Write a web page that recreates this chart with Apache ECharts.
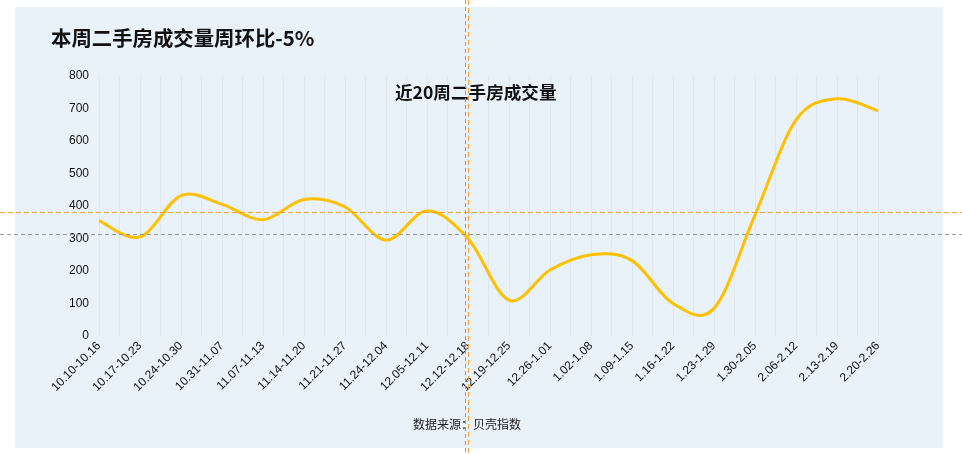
<!DOCTYPE html>
<html><head><meta charset="utf-8">
<script src="https://cdn.jsdelivr.net/npm/echarts@6/dist/echarts.min.js"></script>
<style>html,body{margin:0;padding:0;background:#fff}#c{width:962px;height:454px}</style>
</head><body><div id="c"></div>
<script>
const categories = ['10.10-10.16','10.17-10.23','10.24-10.30','10.31-11.07','11.07-11.13','11.14-11.20','11.21-11.27','11.24-12.04','12.05-12.11','12.12-12.18','12.19-12.25','12.26-1.01','1.02-1.08','1.09-1.15','1.16-1.22','1.23-1.29','1.30-2.05','2.06-2.12','2.13-2.19','2.20-2.26'];
const volumes = [355, 305, 432, 405, 358, 420, 397, 295, 385, 300, 110, 203, 250, 232, 100, 85, 372, 665, 730, 693];
const yTicks = [0, 800, 100];
const titleText = '本周二手房成交量周环比-5%';
const subTitleText = '近20周二手房成交量';
const sourceText = '数据来源：贝壳指数';

// Catmull-Rom spline through the points given in pixel space by the axes
function splinePath(pts) {
  let d = 'M' + pts[0][0] + ',' + pts[0][1];
  for (let i = 0; i < pts.length - 1; i++) {
    const p0 = pts[i - 1] || pts[i], p1 = pts[i], p2 = pts[i + 1], p3 = pts[i + 2] || pts[i + 1];
    const c1x = p1[0] + (p2[0] - p0[0]) / 6, c1y = p1[1] + (p2[1] - p0[1]) / 6;
    const c2x = p2[0] - (p3[0] - p1[0]) / 6, c2y = p2[1] - (p3[1] - p1[1]) / 6;
    d += 'C' + c1x + ',' + c1y + ',' + c2x + ',' + c2y + ',' + p2[0] + ',' + p2[1];
  }
  return d;
}

const chart = echarts.init(document.getElementById('c'));
chart.setOption({
  animation: false,
  backgroundColor: '#ffffff',
  textStyle: { fontFamily: 'Liberation Sans, Arial, sans-serif' },
  title: [
    { text: titleText, left: 46, top: 23, textStyle: { fontSize: 20.4, fontWeight: 'bold', color: '#111', fontFamily: 'Noto Sans CJK SC' } },
    { text: subTitleText, left: 390, top: 79, textStyle: { fontSize: 17.6, fontWeight: 'bold', color: '#111', fontFamily: 'Noto Sans CJK SC' } },
    { text: sourceText, left: 408, top: 413, textStyle: { fontSize: 12, fontWeight: 'normal', color: '#222', fontFamily: 'Noto Sans CJK SC' } }
  ],
  graphic: [
    { type: 'rect', z: -10, shape: { x: 15, y: 7, width: 928, height: 441 }, style: { fill: '#EAF2F9' } },
    { type: 'line', z: 100, shape: { x1: 465.5, y1: 0, x2: 465.5, y2: 454 }, style: { stroke: '#999', lineWidth: 1, lineDash: [4, 3] } },
    { type: 'line', z: 100, shape: { x1: 0, y1: 234.5, x2: 962, y2: 234.5 }, style: { stroke: '#999', lineWidth: 1, lineDash: [4, 3] } },
    { type: 'line', z: 101, shape: { x1: 468.5, y1: 0, x2: 468.5, y2: 454 }, style: { stroke: '#F5A031', lineWidth: 1, lineDash: [5, 3] } },
    { type: 'line', z: 101, shape: { x1: 0, y1: 212.5, x2: 962, y2: 212.5 }, style: { stroke: '#F5A031', lineWidth: 1, lineDash: [5, 3] } }
  ],
  grid: { left: 99, right: 84, top: 76, bottom: 118, containLabel: false },
  xAxis: [
    {
      type: 'category', data: categories, boundaryGap: false,
      axisLine: { show: false }, axisTick: { show: false },
      splitLine: { show: false },
      axisLabel: { rotate: 45, interval: 0, fontSize: 12, color: '#111', margin: 8 }
    },
    {
      type: 'value', min: 0, max: categories.length - 1, interval: 0.5, show: true,
      position: 'bottom', axisLine: { show: false }, axisTick: { show: false }, axisLabel: { show: false },
      splitLine: { show: true, lineStyle: { color: '#DFE7EF', width: 1 } }
    }
  ],
  yAxis: {
    type: 'value', min: yTicks[0], max: yTicks[1], interval: yTicks[2],
    axisLine: { show: false }, axisTick: { show: false },
    splitLine: { show: false },
    axisLabel: { fontSize: 12, color: '#111', margin: 10 }
  },
  series: [{
    type: 'custom',
    xAxisIndex: 0,
    data: [[0, volumes[0]]],
    renderItem: function (params, api) {
      const pts = volumes.map((v, i) => api.coord([i, v]));
      return {
        type: 'path',
        shape: { pathData: splinePath(pts) },
        style: { stroke: '#FFC000', lineWidth: 3, fill: null }
      };
    }
  }]
});
</script></body></html>
